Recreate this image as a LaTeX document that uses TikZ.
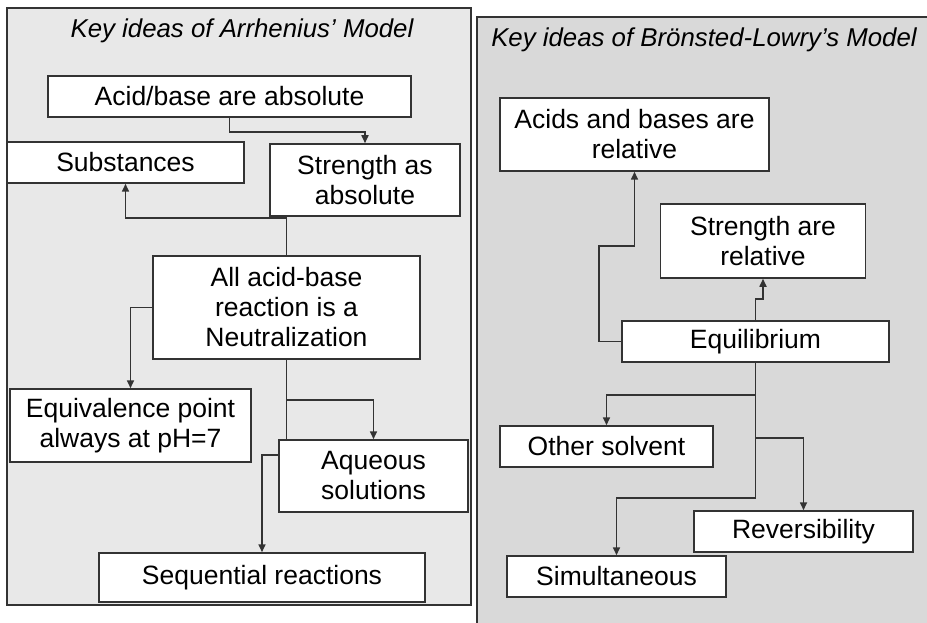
\documentclass[tikz,border=0pt]{standalone}
\usepackage{fontspec}
\setmainfont{Liberation Sans}
\usetikzlibrary{arrows.meta,calc}
\definecolor{leftbg}{HTML}{E8E8E8}
\definecolor{rightbg}{HTML}{D9D9D9}
\definecolor{ln}{HTML}{333333}
\tikzset{
  box/.style={draw=ln, line width=1.5pt, fill=white, inner sep=0pt, align=center,
    font=\fontsize{26.5}{30}\selectfont},
  panel/.style={draw=ln, line width=1.8pt},
  conn/.style={draw=ln, line width=1.6pt},
  arr/.style={conn, -{Triangle[length=8pt,width=7pt]}},
  ttl/.style={font=\fontsize{25.8}{30}\selectfont\itshape, inner sep=0pt}
}
\begin{document}
\begin{tikzpicture}[x=1pt,y=-1pt]
\useasboundingbox (0,0) rectangle (927,623);
% panels
\path[panel, fill=leftbg] (7,8) rectangle (471,605);
\path[panel, fill=rightbg] (477,17) rectangle (935,630);
\node[ttl] (t1) at (242,31) {Key ideas of Arrhenius’ Model};
\node[ttl] (t2) at (704,40) {Key ideas of Brönsted-Lowry’s Model};
% left nodes
\node[box, minimum width=363pt, minimum height=41pt] (ab) at (229.5,96.5) {Acid/base are absolute};
\node[box, minimum width=237pt, minimum height=41pt] (sub) at (125.5,162.5) {Substances};
\node[box, minimum width=190pt, minimum height=72pt] (sa) at (365,180) {Strength as\\absolute};
\node[box, minimum width=267pt, minimum height=103pt] (all) at (286.5,307.5) {All acid-base\\reaction is a\\Neutralization};
\node[box, minimum width=241pt, minimum height=73pt] (eq) at (130.5,425.5) {Equivalence point\\always at pH=7};
\node[box, minimum width=189pt, minimum height=72pt] (aq) at (373.5,476) {Aqueous\\solutions};
\node[box, minimum width=326pt, minimum height=49pt] (seq) at (262,577.5) {Sequential reactions};
% right nodes
\node[box, minimum width=269pt, minimum height=73pt] (acid) at (634.5,134.5) {Acids and bases are\\relative};
\node[box, minimum width=205pt, minimum height=74pt] (str) at (763,241) {Strength are\\relative};
\node[box, minimum width=267pt, minimum height=41pt] (eqm) at (755.5,341.5) {Equilibrium};
\node[box, minimum width=213pt, minimum height=41pt] (oth) at (606.5,446.5) {Other solvent};
\node[box, minimum width=219pt, minimum height=41pt] (rev) at (803.5,531.5) {Reversibility};
\node[box, minimum width=219pt, minimum height=41pt] (sim) at (616.5,576.5) {Simultaneous};
% left connectors
\draw[arr] (ab.south) -- ++(0,14) -| (sa.north);
\draw[arr] (all.north) -- ++(0,-37) -| (sub.south);
\draw[arr] (all.west) -| (eq.north);
\draw[conn] (all.south) -- (all.south |- aq.north);
\coordinate (lb) at ($(all.south)+(0,40)$);
\draw[arr] (lb) -| (aq.north);
\coordinate (aql) at ($(aq.north west)+(0,16)$);
\draw[arr] (aql) -| (seq.north);
% right connectors
\coordinate (rl) at (599,341.5);
\coordinate (ru) at (599,245.7);
\draw[arr] (eqm.west) -- (rl) -- (ru) -| (acid.south);
\draw[arr] (eqm.north) -- ++(0,-21) -| (str.south);
\coordinate (rb) at ($(eqm.south)+(0,135)$);
\draw[arr] (eqm.south) -- (rb) -| (sim.north);
\coordinate (ro) at ($(eqm.south)+(0,32)$);
\draw[arr] (ro) -| (oth.north);
\coordinate (rr) at ($(eqm.south)+(0,75)$);
\draw[arr] (rr) -| (rev.north);
\end{tikzpicture}
\end{document}
